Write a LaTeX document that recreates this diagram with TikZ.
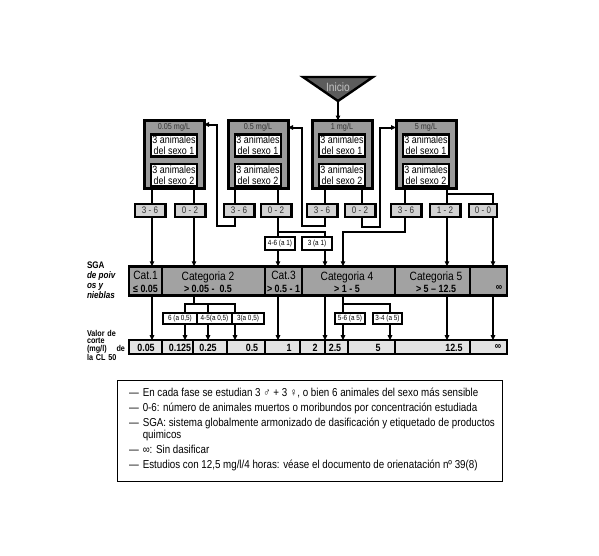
\documentclass[tikz,border=0pt]{standalone}
\usepackage{fontspec}
\setmainfont{Liberation Sans}[FakeStretch=0.85]
\usetikzlibrary{arrows.meta}
\definecolor{BoxGray}{HTML}{9A9A9A}
\definecolor{CatGray}{HTML}{A2A2A2}
\definecolor{ResGray}{HTML}{D2D2D2}
\definecolor{CutGray}{HTML}{E3E3E3}
\definecolor{StartGray}{HTML}{5C5C5C}
\definecolor{StartInk}{HTML}{C4C4C4}
\definecolor{InkGray}{HTML}{333333}
\newcommand{\fsz}[2]{\fontsize{#1}{#2}\selectfont}
\newcommand{\catrange}[1]{{\bfseries\fsz{10.5}{11}#1}}

\begin{document}
\begin{tikzpicture}[x=1pt, y=-1pt, >={Triangle[length=5pt, width=4.5pt]},
  every node/.style={inner sep=0pt, outer sep=0pt},
  conc/.style={draw, line width=3pt, fill=BoxGray, minimum width=60pt, minimum height=68pt},
  animal/.style={draw, line width=2.4pt, fill=white, minimum width=46pt, minimum height=22pt, align=center, font=\fsz{10.5}{11}},
  dose/.style={font=\fsz{8.5}{9}, text=InkGray},
  res/.style={draw, line width=2.4pt, fill=ResGray, minimum width=30.6pt, minimum height=12.6pt, font=\fsz{9.5}{9}, text=InkGray},
  sub/.style={draw, line width=2pt, fill=white, minimum height=13pt, font=\fsz{7.5}{8}},
  cat/.style={draw, line width=2.6pt, fill=CatGray, minimum height=29.4pt},
  cattxt/.style={align=center, font=\fsz{12}{12.5}},
  cut/.style={draw, line width=2.4pt, fill=CutGray, minimum height=13.6pt},
  num/.style={font=\bfseries\fsz{10.5}{11}},
  link/.style={line width=2pt}]
\useasboundingbox (0,0) rectangle (599,555);

% Start
\draw[line width=2.4pt, fill=StartGray] (303,77) -- (373,77) -- (338,101) -- cycle;
\node[font=\fsz{12}{12}, text=StartInk] (ini) at (338,87) {Inicio};
\coordinate (iniapex) at (338,101);

% Concentration steps
\foreach \n/\x/\dv in {1/174/0.05, 2/258/0.5, 3/342/1, 4/426/5} {
  \node[conc] (c\n) at (\x,154.5) {};
  \node[dose] (h\n) at (\x,127) {\dv{} mg/L};
  \node[animal] (m\n) at (\x,145.5) {3 animales\\del sexo 1};
  \node[animal] (f\n) at (\x,175) {3 animales\\del sexo 2};
}
\draw[link,->] (iniapex) -- (iniapex |- c3.north);

% Results per step
\foreach \n/\x/\t in {r1a/150/3 - 6, r1b/190/0 - 2, r2a/239/3 - 6, r2b/276/0 - 2,
                      r3a/322/3 - 6, r3b/360/0 - 2, r4a/406/3 - 6, r4b/445/1 - 2}
  \node[res] (\n) at (\x,210.5) {\t};
\node[res, minimum width=27.6pt] (r4c) at (483,210.5) {0 - 0};

\node[sub, minimum width=30pt] (g1) at (280,243.5) {4-6 (a 1)};
\node[sub, minimum width=30pt] (g2) at (317,243.5) {3 (a 1)};

% Tracks
\foreach \n/\x in {t1/152, t2/194, t3/235, t4/278, t5/325, t6/362, t7/405, t8/447,
                   t9/493, tA/343, tB/185, tC/208, tD/390}
  \coordinate (\n) at (\x,0);

% SGA categories
\foreach \n/\x/\w in {cat1/145.5/33pt, cat2/213.5/103pt, cat3/283.5/37pt,
                      cat4/348.5/93pt, cat5/432.5/75pt, cat6/488.5/37pt}
  \node[cat, minimum width=\w] (\n) at (\x,281) {};
\node[cattxt] (l1) at (145.5,282) {Cat.1\\\catrange{≤ 0.05}};
\node[cattxt] (l2) at (208,282) {Categoria 2\\\catrange{> 0.05 -\ \ 0.5}};
\node[cattxt] (l3) at (283.5,282) {Cat.3\\\catrange{> 0.5 - 1}};
\node[cattxt] (l4) at (347,282) {Categoria 4\\\catrange{> 1 - 5}};
\node[cattxt] (l5) at (436,282) {Categoria 5\\\catrange{> 5 – 12.5}};
\node[num] (l6) at (499,288.5) {∞};

\node[anchor=north west, align=left, font=\bfseries\fsz{9.5}{10}] (sga) at (87,262)
  {SGA\\\itshape de poiv\\\itshape os y\\\itshape nieblas};

% Intermediate tests
\node[sub, minimum width=34pt, minimum height=11pt] (b1) at (180,318.5) {6 (a 0,5)};
\node[sub, minimum width=35pt, minimum height=11pt] (b2) at (214.5,318.5) {4-5(a 0,5)};
\node[sub, minimum width=32pt, minimum height=11pt] (b3) at (248,318.5) {3(a 0,5)};
\node[sub, minimum width=30pt, minimum height=11pt] (e1) at (350,318.5) {5-6 (a 5)};
\node[sub, minimum width=29pt, minimum height=11pt] (e2) at (387.5,318.5) {3-4 (a 5)};

% Cut-off values
\foreach \n/\x/\w in {k1/145.5/33pt, k2/177.5/31pt, k3/210/34pt, k4/246/38pt, k5/282.5/35pt,
                      k6/312.5/25pt, k7/336.5/23pt, k8/371.5/47pt, k9/432.5/75pt, k10/488.5/37pt}
  \node[cut, minimum width=\w] (\n) at (\x,347) {};
\foreach \n/\x/\v in {v1/146/0.05, v2/180/0.125, v3/208/0.25, v4/252/0.5, v5/289/1,
                      v6/315/2, v7/335/2.5, v8/378/5, v9/454/12.5, v10/498/∞}
  \node[num] (\n) at (\x,347.5) {\v};

\node[anchor=north west, align=left, text width=38pt, font=\bfseries\fsz{8.5}{7.8}] (vc) at (87,330)
  {Valor de\\corte\\(mg/l)\hfill de\\la CL 50};

% Step to results
\foreach \c/\r/\t in {c1/r1a/t1, c1/r1b/t2, c2/r2a/t3, c2/r2b/t4,
                      c3/r3a/t5, c3/r3b/t6, c4/r4a/t7, c4/r4b/t8}
  \draw[link] (\c.south -| \t) -- (\r.north -| \t);
\draw[link] (c4.south -| t8) -- ++(0,5) -| (r4c.north -| t9);

% Going back or forward
\draw[link,->] (r2a.south -| t3) -- ++(0,9) -- ++(-18,0) |- ([yshift=-4pt]c1.north east);
\draw[link,->] (r3a.south -| t5) -- ++(0,9) -- ++(-23,0) |- ([yshift=-7pt]c2.north east);
\draw[link,->] (r3b.south -| t6) -- ++(0,10) -- ++(18,0) |- ([yshift=-7pt]c4.north west);

% Results to categories
\draw[link,->] (r1a.south -| t1) -- (cat1.north -| t1);
\draw[link,->] (r1b.south -| t2) -- (cat2.north -| t2);
\draw[link] (r2b.south -| t4) -- (g1.north -| t4);
\draw[link] (r2b.south -| t4) -- ++(0,15) -| (g2.north -| t5);
\draw[link,->] (g1.south -| t4) -- (cat3.north -| t4);
\draw[link,->] (g2.south -| t5) -- (cat4.north -| t5);
\draw[link,->] (r4a.south -| t7) -- ++(0,15) -| (cat4.north -| tA);
\draw[link,->] (r4b.south -| t8) -- (cat5.north -| t8);
\draw[link,->] (r4c.south -| t9) -- (cat6.north -| t9);

% Categories to cut-off values
\coordinate (j2) at (194,304);
\coordinate (j4) at (343,304);
\draw[link] (cat2.south -| j2) -- (j2);
\draw[link] (b1.north -| tB) -- (j2 -| tB) -- (j2 -| t3) -- (b3.north -| t3);
\draw[link] (j2 -| tC) -- (b2.north -| tC);
\draw[link] (cat4.south -| tA) -- (e1.north -| tA);
\draw[link] (j4) -- (j4 -| tD) -- (e2.north -| tD);
\draw[link,->] (cat1.south -| t1) -- (k1.north -| t1);
\draw[link,->] (cat3.south -| t4) -- (k5.north -| t4);
\draw[link,->] (cat4.south -| t5) -- (k6.north -| t5);
\draw[link,->] (cat5.south -| t8) -- (k9.north -| t8);
\draw[link,->] (cat6.south -| t9) -- (k10.north -| t9);
\foreach \b/\k/\t in {b1/k2/tB, b2/k3/tC, b3/k4/t3, e1/k7/tA, e2/k8/tD}
  \draw[link,->] (\b.south -| \t) -- (\k.north -| \t);

% Notes
\node[draw, line width=1.2pt, minimum width=385pt, minimum height=101pt] (legend) at (310,431) {};
\node[anchor=north west, font=\fsz{11.5}{10}] (notes) at (129,388) {%
  \begin{tabular}{@{}l@{\hspace{4pt}}l@{}}
  — & En cada fase se estudian 3 ♂ + 3 ♀, o bien 6 animales del sexo más sensible\\[3.7pt]
  — & 0-6: número de animales muertos o moribundos por concentración estudiada\\[3.7pt]
  — & SGA: sistema globalmente armonizado de dasificación y etiquetado de productos\\
    & quimicos\\[3.7pt]
  — & ∞: Sin dasificar\\[3.7pt]
  — & Estudios con 12,5 mg/l/4 horas: véase el documento de orienatación nº 39(8)
  \end{tabular}};
\end{tikzpicture}
\end{document}
